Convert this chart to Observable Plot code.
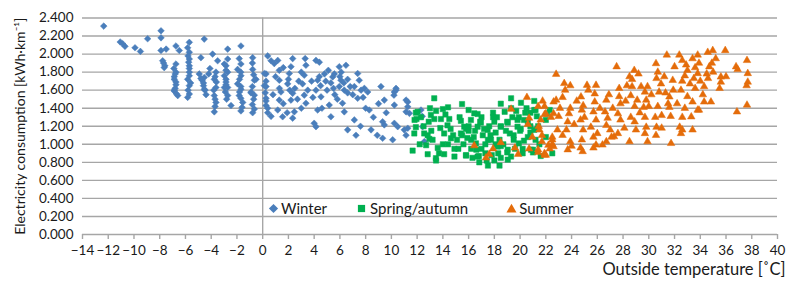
<!DOCTYPE html>
<html>
<head>
<meta charset="utf-8">
<script src="https://cdn.jsdelivr.net/npm/d3@7"></script>
<script src="https://cdn.jsdelivr.net/npm/@observablehq/plot@0.6"></script>
<style>
  html, body { margin: 0; padding: 0; background: #fff; }
  #wrap { position: relative; width: 788px; height: 284px; font-family: Lato, "Open Sans", sans-serif; }
  #legend { position: absolute; left: 266px; top: 198px; height: 20px; font-size: 15px; color: #1a1a1a; display: flex; align-items: center; white-space: nowrap; }
  #legend span.item { display: inline-flex; align-items: center; }
  #legend svg { display: block; }
</style>
</head>
<body>
<div id="wrap"></div>
<script>
// ---- data: [outside temperature °C, electricity consumption kWh·km⁻¹] ----
const winter = [
  [-12.35,2.31],[-11.07,2.134],[-10.88,2.115],[-10.7,2.086],[-9.92,2.07],[-9.5,2.03],[-8.94,2.17],
  [-7.9,2.258],[-7.9,2.18],[-7.9,2.04],[-7.5,2.055],[-7.77,1.926],[-7.6,1.87],[-7.65,1.85],[-7.7,1.90],
  [-6.74,2.09],[-6.48,2.04],[-6.74,1.89],[-6.87,1.72],[-6.74,1.66],[-6.87,1.59],[-6.6,1.54],
  [-6.74,1.80],[-6.87,1.75],[-6.74,1.69],[-6.87,1.60],[-6.8,1.62],[-6.7,1.56],[-6.9,1.84],[-6.8,1.78],
  [-5.7,2.13],[-5.83,2.07],[-5.7,2.02],[-5.7,1.945],[-5.7,1.87],[-5.7,1.80],[-5.83,1.72],[-5.7,1.65],
  [-5.7,1.557],[-5.83,1.52],[-5.7,1.84],[-5.6,1.68],[-5.8,1.60],[-5.7,1.76],[-5.8,1.98],[-5.75,1.91],
  [-4.54,2.166],[-4.8,1.96],[-4.93,1.78],[-4.54,1.74],[-4.54,1.61],[-4.7,1.71],[-4.48,1.60],[-4.6,1.65],
  [-4.8,1.73],[-4.6,1.68],[-4.1,1.84],[-4.2,1.78],[-4.4,1.55],
  [-3.89,2.0],[-3.5,1.926],[-3.76,1.72],[-3.63,1.63],[-3.76,1.54],[-3.63,1.464],[-3.76,1.36],
  [-3.63,1.80],[-3.7,1.75],[-3.6,1.69],[-3.8,1.60],[-3.7,1.50],[-3.7,1.42],
  [-2.72,2.055],[-2.72,1.945],[-2.85,1.87],[-2.72,1.80],[-2.85,1.72],[-2.72,1.63],[-2.72,1.54],[-2.46,1.43],
  [-2.98,1.89],[-2.85,1.82],[-2.98,1.76],[-2.85,1.69],[-2.98,1.63],[-2.9,1.58],[-2.8,1.50],[-2.85,1.66],
  [-1.69,2.09],[-1.82,1.95],[-1.69,1.89],[-1.95,1.83],[-1.69,1.76],[-1.95,1.67],[-1.69,1.61],[-1.82,1.54],
  [-1.55,1.464],[-1.69,1.37],[-1.8,1.72],[-1.7,1.80],[-1.7,1.64],[-1.8,1.58],[-1.7,1.51],[-1.6,1.41],
  [-0.78,1.96],[-0.78,1.83],[-0.52,1.72],[-0.91,1.57],[-0.65,1.39],[-0.78,1.35],[-0.65,1.71],[-0.9,1.58],
  [-0.65,1.545],[-0.8,1.90],[-0.7,1.77],[-0.8,1.64],[-0.7,1.50],[-0.8,1.44],
  [0.39,1.98],[0.65,1.926],[0.26,1.78],[0.13,1.65],[0.26,1.48],[0.26,1.43],[0.39,1.35],[0.65,1.31],
  [0.26,1.64],[0.26,1.51],[0.39,1.40],[0.13,1.785],[0.26,1.70],[0.2,1.57],
  [1.17,1.93],[0.9,1.895],[1.29,1.82],[1.29,1.71],[1.42,1.58],[1.29,1.49],[1.17,1.38],[1.55,1.305],
  [2.33,1.95],[2.2,1.86],[2.07,1.785],[1.94,1.67],[2.33,1.565],[2.2,1.49],[2.46,1.36],[2.33,1.29],
  [3.36,1.876],[3.23,1.766],[3.1,1.67],[3.23,1.545],[3.36,1.455],
  [4.14,1.93],[4.4,1.91],[4.27,1.71],[4.14,1.60],[4.53,1.526],[4.27,1.38],[4.0,1.233],[4.14,1.195],
  [5.17,1.435],[5.3,1.305],[5.44,1.747],[5.57,1.78],[5.95,1.86],[6.47,1.876],[6.08,1.71],[5.95,1.64],
  [6.34,1.60],[6.6,1.57],[6.2,1.455],[6.34,1.36],[6.6,1.16],[7.12,1.27],[7.25,1.10],
  [7.38,1.785],[7.5,1.71],[7.12,1.64],[7.64,1.60],[7.38,1.51],[8.16,1.58],[8.28,1.38],[8.42,1.16],
  [9.19,1.64],[9.32,1.25],[9.45,1.215],[9.32,1.067],[9.45,1.49],
  [10.23,1.58],[10.36,1.62],[10.23,1.435],[10.23,1.233],[10.1,1.05],[10.49,1.195],
  [11.27,1.47],[11.14,1.36],[11.27,1.178],[10.36,1.60],[10.2,1.545],[11.14,1.49],[11.27,1.416],[11.4,1.343],
  [11.0,1.16],[11.14,1.10],[12.3,1.38],[12.4,1.31],[12.43,1.195],[12.56,1.03],
  [1.0,1.75],[1.3,1.62],[1.6,1.45],[2.0,1.72],[2.5,1.62],[2.7,1.50],[3.0,1.80],[3.5,1.60],[3.8,1.70],
  [4.5,1.65],[4.8,1.78],[5.0,1.60],[5.3,1.68],[5.6,1.55],[6.0,1.75],[6.3,1.68],[6.8,1.64],[7.0,1.55],
  [7.8,1.52],[8.0,1.40],[8.6,1.30],[9.0,1.45],[9.6,1.35],[5.8,1.50],[4.6,1.40],[3.0,1.40],[1.9,1.35],
  [0.8,1.55],[7.6,1.20],[8.9,1.10],[2.8,1.70],[3.9,1.52],[4.9,1.70],[5.1,1.82],[6.1,1.80],[3.3,1.95],
  [1.6,1.85],[2.1,1.60],[4.4,1.75],[5.5,1.62],[6.6,1.72],[7.9,1.62]
];
const springAutumn = [
  [13.33,1.51],[15.49,1.446],[19.3,1.51],[20.07,1.46],[21.1,1.48],[11.9,1.35],[11.95,1.28],[13.47,1.37],
  [14.0,1.39],[14.4,1.41],[13.33,1.28],[13.85,1.28],[11.9,1.19],[11.78,1.12],[12.55,1.12],[12.95,1.06],
  [11.65,0.93],[12.82,0.89],[13.47,0.82],[13.6,0.96],[14.1,0.89],[14.6,1.17],[14.8,1.10],[15.4,1.26],
  [15.5,1.10],[14.9,0.95],[15.8,0.875],[16.2,1.05],[16.7,1.336],[16.95,1.24],[17.2,1.17],[16.6,0.94],
  [16.83,0.80],[17.5,0.764],[18.4,0.764],[16.8,0.87],[17.9,1.30],[18.1,1.13],[18.5,1.20],[18.5,0.98],
  [18.8,1.36],[19.3,1.40],[19.04,1.24],[19.5,1.10],[19.0,0.91],[18.5,0.85],[19.8,1.27],[20.05,1.17],
  [20.3,1.04],[20.2,0.95],[20.8,1.35],[20.8,1.13],[21.0,0.91],[21.4,1.20],[15.8,1.17],[14.1,1.12],
  [16.0,1.20],[17.5,1.05],[18.1,1.00],[12.7,0.99],
  [12.04,1.36],[12.3,1.30],[13.07,1.325],[12.82,1.10],[13.46,0.846],[14.36,1.21],[14.63,1.067],[14.9,0.864],
  [15.4,1.12],[15.66,1.195],[15.9,1.07],[16.18,1.27],[16.44,1.343],[16.7,1.195],[16.57,1.01],[16.7,0.864],
  [17.48,1.16],[17.74,1.05],[18.0,1.25],[18.26,0.975],[18.5,1.195],[19.2,1.12],[19.04,0.94],[19.3,0.864],
  [19.7,1.37],[19.8,1.195],[19.9,1.01],[20.3,1.27],[20.6,1.08],[20.85,0.94],[21.1,1.38],[21.35,1.17],
  [19.04,0.83],[21.2,1.38],[21.3,1.31],[22.1,1.34],[22.3,1.38],[22.0,1.27],[21.1,1.16],[21.2,1.05],
  [21.0,0.94],[22.0,1.08],[22.5,0.90],[21.6,0.87],
  [12.5,1.20],[12.9,1.25],[13.2,1.05],[13.8,1.18],[14.0,1.00],[14.5,1.28],[15.1,1.05],[15.2,0.95],
  [15.6,1.00],[16.0,1.15],[16.2,0.95],[16.4,1.08],[16.9,1.25],[17.0,0.95],[17.1,1.10],[17.3,1.00],
  [17.6,1.20],[17.8,0.88],[17.9,1.35],[18.3,0.90],[18.4,1.05],[18.7,1.00],[18.9,1.15],[19.0,1.25],
  [19.5,1.05],[19.6,0.95],[20.0,1.15],[20.2,0.90],[20.4,1.35],[20.8,1.20],[21.5,1.00],[15.3,1.30],
  [13.0,1.40],[14.2,1.33],[16.0,1.38],[18.5,1.45],[17.4,0.82],[16.3,0.85],[12.2,1.00],[11.8,1.27],
  [13.7,0.90],[15.8,0.88],[20.5,1.40],[19.4,1.30],[17.0,1.30],[17.7,1.10],[18.2,1.30],[16.5,1.15],
  [14.4,1.00],[13.1,1.15],[19.9,1.30],[20.6,1.25],[17.3,0.90],[18.0,0.82]
];
const summer = [
  [20.53,1.52],[21.75,1.48],[19.3,1.39],[21.4,1.42],[21.9,1.33],[20.7,1.29],[20.6,1.22],[21.45,1.20],
  [20.95,1.08],[21.7,1.10],[16.44,0.985],[18.5,1.02],[17.9,0.95],[17.6,0.89],[17.35,0.85],[19.6,0.96],
  [19.85,0.89],[20.7,0.95],[21.4,0.91],[21.9,0.88],[22.2,0.99],
  [22.6,1.47],[22.0,1.34],[22.4,1.30],[22.5,1.05],[22.6,0.975],
  [22.8,1.777],[27.5,1.86],[31.4,1.99],[32.37,1.99],[32.6,1.93],[33.4,1.95],[33.8,1.99],[34.58,2.02],
  [34.97,2.04],[35.94,2.04],[37.63,1.93],[36.78,1.86],[36.9,1.83],[37.69,1.785],[37.69,1.69],[37.6,1.65],
  [37.63,1.435],[36.85,1.36],[35.6,1.747],[35.6,1.69],[35.5,1.62],[34.83,1.47],[34.3,1.47],[34.7,1.86],
  [34.5,1.78],[34.6,1.73],[34.3,1.64],[33.9,1.90],[33.8,1.785],[33.5,1.73],[33.6,1.62],[33.4,1.47],
  [33.8,1.38],[33.3,1.305],[33.4,1.16],[33.0,1.82],[33.0,1.53],[32.8,1.76],[32.6,1.70],[32.5,1.60],
  [32.8,1.40],[32.6,1.30],[32.4,1.19],[32.5,1.12],[32.0,1.86],[31.86,1.71],[31.6,1.526],[31.6,1.41],
  [31.7,1.31],[31.73,1.01],[30.56,1.895],[30.7,1.80],[30.6,1.73],[30.95,1.67],[30.8,1.58],[31.3,1.57],
  [31.5,1.45],[30.7,1.42],[31.0,1.32],[30.5,1.30],[30.6,1.19],[31.0,1.18],[30.56,1.10],[29.9,1.64],
  [29.7,1.58],[29.4,1.64],[29.8,1.49],[30.0,1.42],[29.6,1.41],[29.7,1.30],[29.8,1.19],[29.7,1.12],
  [28.87,1.82],[28.7,1.72],[28.5,1.75],[28.7,1.64],[28.6,1.54],[29.1,1.49],[28.9,1.42],[28.6,1.30],
  [28.9,1.25],[29.0,1.16],[28.5,1.03],[27.7,1.62],[27.7,1.53],[27.8,1.45],[27.6,1.34],[27.8,1.27],
  [28.1,1.18],[27.3,1.085],[27.6,1.12],[26.7,1.49],[26.6,1.36],[26.8,1.29],[26.7,1.21],[27.0,1.16],
  [27.1,1.08],[26.7,1.03],[26.4,0.993],[25.9,1.655],[25.8,1.56],[25.8,1.47],[25.7,1.36],[25.9,1.27],
  [25.5,1.19],[25.7,1.08],[25.9,0.993],[25.7,0.96],[25.2,1.655],[25.3,1.60],[24.9,1.43],[24.73,1.526],
  [24.8,1.38],[24.7,1.27],[24.9,1.16],[24.8,1.05],[24.7,0.96],[24.86,0.92],[23.9,1.40],[23.8,1.34],
  [23.7,1.25],[23.6,1.16],[23.9,1.03],[23.7,0.94],[23.43,1.675],[23.5,1.60],[23.9,1.65],[23.3,1.52],
  [23.1,1.40],[23.0,1.31],[22.9,1.16],[22.8,1.49],[22.6,1.34],[21.9,1.42],[21.6,1.27],
  [21.5,1.16],[21.7,1.03],[21.9,0.90],[21.4,0.94],[22.0,0.88],[22.5,1.08],[22.5,1.00],[22.3,0.95],
  [33.2,1.67],[34.2,1.55],[33.9,1.38],[32.6,1.16],[29.9,1.03],
  [23.3,1.10],[24.2,1.22],[24.4,1.48],[25.0,1.30],[26.2,1.40],[26.0,1.12],[27.2,1.40],[28.2,1.48],
  [28.3,1.65],[29.3,1.35],[30.2,1.55],[31.2,1.75],[32.2,1.45],[33.6,1.85],[34.0,1.70],[35.0,1.80],
  [35.2,1.95],[36.0,1.75],[24.0,0.98],[26.9,1.55],[29.2,1.78],[31.9,1.60],[32.9,1.88],[34.9,1.90]
];
const yTicks = [0,0.2,0.4,0.6,0.8,1.0,1.2,1.4,1.6,1.8,2.0,2.2,2.4];
const xTicks = d3.range(-14, 41, 2);
const yTitle = "Electricity consumption [kWh·km⁻¹]";
const xTitle = "Outside temperature [˚C]";
const seriesNames = ["Winter", "Spring/autumn", "Summer"];
const colors = ["#4a7ebb", "#00b050", "#e46c0a"];

const fmtX = d => d < 0 ? "\u2212" + (-d) : String(d);
const grid = "#a6a6a6";

const plot = Plot.plot({
  width: 788,
  height: 284,
  marginTop: 17.5,
  marginBottom: 50,
  marginLeft: 82,
  marginRight: 11,
  x: {domain: [-14, 40]},
  y: {domain: [0, 2.4]},
  style: {fontFamily: "Lato, 'Open Sans', sans-serif", fontSize: "13.5px", color: "#1a1a1a", background: "#fff"},
  marks: [
    Plot.ruleY(yTicks.filter(d => d > 0), {stroke: grid, strokeWidth: 1.4}),
    Plot.ruleX([0], {stroke: grid, strokeWidth: 1.4}),
    Plot.ruleY([0], {stroke: grid, strokeWidth: 1.4}),
    Plot.axisY({ticks: yTicks, tickSize: 0, tickPadding: 9, tickFormat: d3.format(".3f"), label: null, fontSize: 13.5}),
    Plot.axisX({ticks: xTicks, tickSize: 5, tickPadding: 6, tickFormat: fmtX, stroke: grid, strokeWidth: 1.4, label: null, fontSize: 13.5}),
    Plot.dot(winter, {x: d => d[0], y: d => d[1], symbol: "diamond2", r: 3.0, fill: colors[0], stroke: colors[0], strokeWidth: 0.5}),
    Plot.dot(springAutumn, {x: d => d[0], y: d => d[1], symbol: "square", r: 3.0, fill: colors[1], stroke: colors[1], strokeWidth: 0.5}),
    Plot.dot(summer, {x: d => d[0], y: d => d[1], symbol: "triangle", r: 2.8, fill: colors[2], stroke: colors[2], strokeWidth: 0.5}),
    Plot.text([yTitle], {frameAnchor: "left", dx: -62, rotate: -90, textAnchor: "middle", fontSize: 14, fill: "#1a1a1a"}),
    Plot.text([xTitle], {frameAnchor: "bottom-right", dx: 8, dy: 40, textAnchor: "end", fontSize: 16.5, fill: "#1a1a1a"})
  ]
});

const wrap = document.getElementById("wrap");
wrap.appendChild(plot);

// legend (HTML, inside the plot area near the bottom)
const icons = [
  '<svg width="11" height="11" viewBox="-5.5 -5.5 11 11"><path d="M0,-4.6L4.6,0L0,4.6L-4.6,0Z" fill="' + colors[0] + '"/></svg>',
  '<svg width="9" height="9" viewBox="-4.5 -4.5 9 9"><rect x="-3.6" y="-3.6" width="7.2" height="7.2" fill="' + colors[1] + '"/></svg>',
  '<svg width="11" height="11" viewBox="-5.5 -5.5 11 11"><path d="M0,-4.8L5,4L-5,4Z" fill="' + colors[2] + '"/></svg>'
];
const gaps = ["margin-left:2px", "margin-left:30px", "margin-left:38px"];
const legend = document.createElement("div");
legend.id = "legend";
legend.innerHTML = seriesNames.map((n, i) =>
  '<span class="item" style="' + gaps[i] + '">' + icons[i] + '<span style="margin-left:' + (i === 1 ? 4 : 2) + 'px">' + n + '</span></span>'
).join("");
wrap.appendChild(legend);
</script>
</body>
</html>
